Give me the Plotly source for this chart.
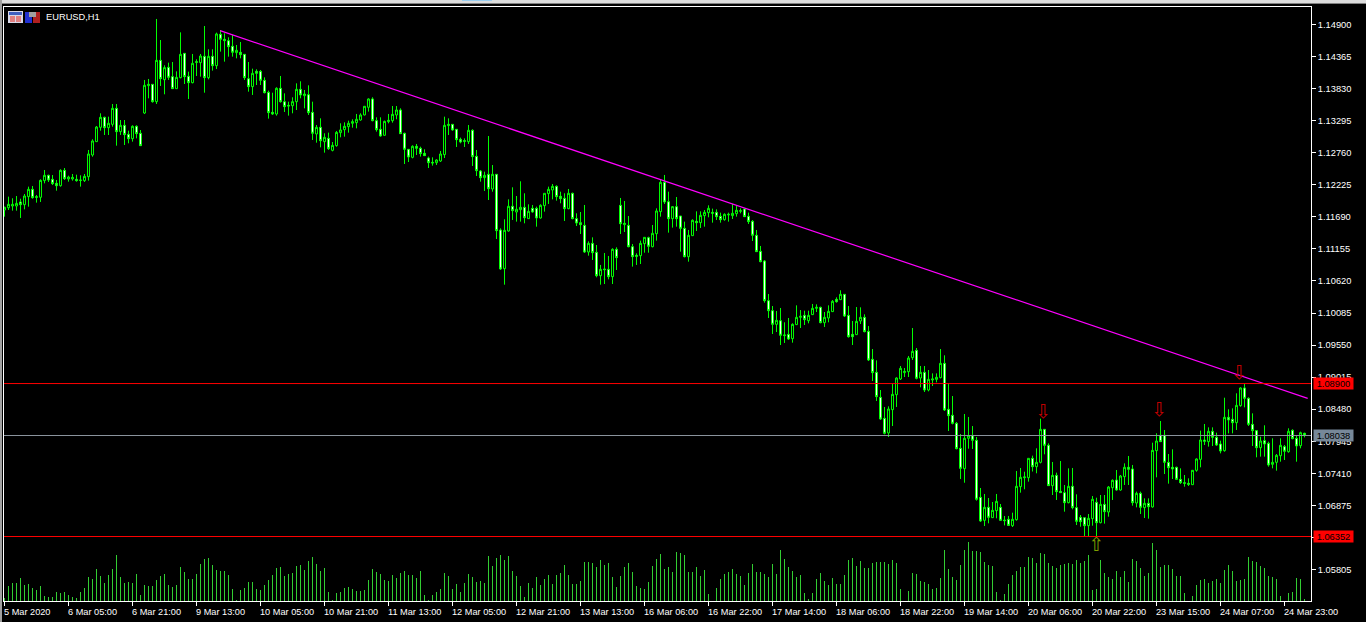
import plotly.graph_objects as go

# EURUSD H1 bars, prices in points (1 point = 0.00001)
opens = [
    111804, 111843, 111871, 111871, 111938, 111893, 112027, 112149, 112027, 112016,
    112294, 112383, 112316, 112249, 112210, 112466, 112322, 112322, 112316, 112305,
    112294, 112360, 112722, 112945, 113184, 113351, 113178, 113234, 113501, 113112,
    113217, 113067, 112995, 113201, 113084, 113423, 113879, 113902, 113612, 114302,
    113979, 114185, 114030, 113829, 114013, 114419, 114035, 113929, 114280, 114263,
    114369, 114013, 114369, 114213, 114736, 114653, 114630, 114536, 114430, 114436,
    114402, 113996, 113863, 114118, 114118, 113968, 113768, 113434, 113406, 113835,
    113612, 113551, 113545, 113612, 113818, 113712, 113729, 113434, 113073, 113184,
    112945, 113000, 112800, 112878, 113095, 113145, 113195, 113251, 113262, 113306,
    113390, 113518, 113657, 113295, 113151, 113051, 113279, 113295, 113390, 113473,
    113084, 112817, 112683, 112867, 112834, 112750, 112672, 112600, 112594, 112622,
    112728, 113212, 113234, 113151, 112984, 112962, 112945, 113134, 112700, 112455,
    112344, 112400, 112155, 112400, 111471, 110825, 111454, 111866, 111771, 111810,
    111849, 111660, 111832, 111832, 111671, 111877, 112077, 112138, 112199, 112033,
    111999, 111827, 112083, 111660, 111593, 111548, 111103, 111248, 111098, 110708,
    110820, 110814, 110692, 111148, 111882, 111560, 111548, 111192, 111048, 111042,
    111243, 111343, 111192, 111409, 111777, 112266, 111943, 111660, 111860, 111704,
    111498, 111025, 111376, 111615, 111593, 111710, 111760, 111765, 111765, 111699,
    111643, 111721, 111710, 111743, 111782, 111821, 111699, 111615, 111382, 111115,
    110953, 110291, 110124, 109896, 109957, 109707, 109729, 109657, 109891, 110013,
    110046, 109957, 110058, 110163, 110180, 109924, 110002, 110108, 110313, 110308,
    110397, 110046, 109729, 109724, 109952, 110013, 109779, 109312, 109095, 108678,
    108327, 108083, 108472, 108722, 108984, 109090, 109106, 109340, 109462, 109000,
    109095, 108800, 108967, 108978, 109006, 109245, 108478, 108378, 108244, 107827,
    107487, 107994, 108038, 107960, 107009, 106625, 106842, 106670, 106787, 106842,
    106631, 106642, 106536, 106636, 107187, 107337, 107337, 107660, 107521, 107593,
    108144, 107877, 107204, 107376, 107109, 107087, 106920, 107193, 106837, 106675,
    106670, 106536, 106653, 106926, 106586, 106892, 106764, 107170, 107298, 107131,
    107354, 107510, 107482, 106914, 107076, 106837, 106909, 106848, 107788, 108044,
    108044, 107593, 107510, 107510, 107309, 107254, 107243, 107220, 107460, 107643,
    107966, 107938, 108111, 108010, 107899, 107788, 108344, 108311, 108255, 108539,
    108834, 108661, 108227, 108122, 107838, 107955, 107910, 107560, 107593, 107704,
    107855, 107771, 108127, 107994, 107871, 108077,
]
highs = [
    111860, 112027, 112000, 112038, 111993, 112071, 112194, 112205, 112055, 112316,
    112472, 112394, 112388, 112305, 112483, 112505, 112377, 112405, 112394, 112383,
    112405, 112806, 112984, 113206, 113418, 113362, 113362, 113573, 113573, 113306,
    113306, 113128, 113217, 113217, 113139, 113974, 113991, 113907, 114992, 114641,
    114219, 114263, 114274, 114118, 114769, 114419, 114113, 114408, 114319, 114408,
    114875, 114486, 114486, 114764, 114808, 114753, 114686, 114725, 114558, 114608,
    114402, 114274, 114163, 114152, 114141, 114018, 113796, 113762, 113852, 114041,
    113751, 113612, 113685, 113918, 113952, 113807, 113885, 113612, 113223, 113334,
    113084, 113095, 112939, 113123, 113251, 113267, 113295, 113318, 113407, 113418,
    113540, 113668, 113685, 113351, 113351, 113295, 113407, 113540, 113540, 113501,
    113095, 112817, 112884, 112906, 112861, 112817, 112695, 112683, 112650, 112789,
    113362, 113334, 113240, 113151, 113012, 113000, 113223, 113151, 112806, 112472,
    112444, 113039, 112555, 112400, 111498, 111649, 111982, 112183, 112038, 112283,
    112083, 111899, 111888, 111860, 111899, 112083, 112194, 112238, 112216, 112110,
    112083, 112155, 112094, 111749, 111771, 111888, 111281, 111348, 111220, 110887,
    111087, 111037, 111165, 111181, 112005, 111955, 111704, 111237, 111081, 111293,
    111348, 111359, 111554, 111832, 112316, 112389, 112110, 111871, 112021, 111704,
    111610, 111471, 111649, 111782, 111782, 111804, 111882, 111827, 111815, 111760,
    111749, 111760, 111904, 111871, 111832, 111821, 111760, 111637, 111471, 111204,
    110970, 110402, 110202, 110119, 110169, 109930, 110002, 109913, 110213, 110135,
    110124, 110124, 110236, 110230, 110191, 110102, 110213, 110302, 110347, 110464,
    110402, 110202, 109952, 110185, 110180, 110063, 109868, 109484, 109295, 108800,
    108517, 108528, 108900, 109012, 109201, 109167, 109368, 109835, 109501, 109201,
    109201, 109134, 109078, 109078, 109484, 109379, 108900, 108700, 108266, 108066,
    108400, 108350, 108199, 108016, 107165, 107065, 106998, 106931, 107065, 106898,
    106698, 106698, 106753, 107449, 107499, 107437, 107660, 107705, 107827, 108322,
    108144, 107910, 107599, 107421, 107615, 107215, 107493, 107499, 107059, 106714,
    106675, 106731, 107031, 107003, 107048, 107048, 107198, 107309, 107465, 107382,
    107576, 107699, 107549, 107104, 107104, 106992, 106992, 107921, 108077, 108283,
    108133, 107732, 107810, 107521, 107493, 107382, 107326, 107465, 107660, 108122,
    108233, 108177, 108177, 108088, 107955, 108672, 108478, 108494, 108745, 108845,
    108900, 108678, 108411, 108133, 108021, 108211, 107938, 107994, 107732, 107994,
    107882, 108161, 108144, 108033, 108105, 108088,
]
lows = [
    111693, 111804, 111793, 111793, 111671, 111815, 111860, 111993, 111927, 111938,
    112249, 112272, 112221, 112127, 112194, 112305, 112277, 112294, 112277, 112194,
    112272, 112294, 112694, 112939, 113128, 113056, 113056, 113195, 112878, 113056,
    112889, 112917, 112945, 113000, 112878, 113406, 113668, 113596, 113573, 113874,
    113735, 113974, 113829, 113829, 114002, 113907, 113657, 113918, 114041, 114030,
    113762, 113985, 114130, 114157, 114447, 114280, 114363, 114363, 114335, 114335,
    113974, 113779, 113724, 113890, 113890, 113751, 113329, 113390, 113379, 113596,
    113440, 113379, 113418, 113473, 113668, 113501, 113390, 112973, 112928, 112850,
    112761, 112806, 112783, 112861, 113017, 113028, 113095, 113178, 113167, 113295,
    113384, 113446, 113284, 113112, 113028, 113045, 113251, 113262, 113318, 113078,
    112572, 112605, 112667, 112722, 112695, 112706, 112505, 112544, 112555, 112605,
    112672, 113056, 113128, 112856, 112917, 112856, 112906, 112539, 112372, 112277,
    112122, 111971, 112110, 111320, 110803, 110558, 111443, 111638, 111610, 111610,
    111582, 111654, 111760, 111526, 111660, 111777, 111905, 111982, 111960, 111916,
    111621, 111816, 111649, 111537, 111404, 111087, 111042, 110970, 110681, 110558,
    110569, 110647, 110569, 110803, 111404, 111437, 111181, 110859, 110887, 110903,
    111092, 111092, 111181, 111293, 111693, 111905, 111426, 111510, 111526, 111109,
    111014, 110942, 111370, 111454, 111504, 111526, 111682, 111593, 111637, 111593,
    111626, 111610, 111654, 111693, 111749, 111693, 111571, 111287, 111109, 110931,
    110258, 110002, 109735, 109768, 109551, 109585, 109635, 109590, 109885, 109835,
    109885, 109913, 110052, 110102, 109913, 109852, 109930, 110102, 110258, 110302,
    110019, 109674, 109551, 109718, 109902, 109763, 109284, 108950, 108617, 108300,
    108060, 108016, 108199, 108517, 108967, 109017, 109017, 109301, 108978, 108845,
    108767, 108778, 108867, 108928, 108995, 108450, 108116, 108227, 107810, 107315,
    107253, 107821, 107816, 106954, 106597, 106530, 106575, 106664, 106659, 106620,
    106541, 106530, 106514, 106620, 107087, 107143, 107271, 107440, 107410, 107576,
    107727, 107198, 107048, 106965, 107087, 106770, 106909, 106809, 106547, 106519,
    106358, 106358, 106536, 106358, 106575, 106570, 106686, 106965, 107120, 107120,
    107215, 107215, 106870, 106842, 106731, 106664, 106653, 106837, 107343, 107938,
    107398, 107237, 107315, 107298, 107232, 107187, 107198, 107215, 107437, 107510,
    107882, 107855, 107866, 107866, 107743, 107771, 108077, 108077, 108133, 108522,
    108511, 108200, 107866, 107677, 107688, 107688, 107521, 107493, 107454, 107604,
    107632, 107754, 107977, 107604, 107827, 108010,
]
closes = [
    111849, 111899, 111899, 111915, 111893, 112038, 112149, 112010, 112016, 112299,
    112383, 112305, 112244, 112210, 112466, 112327, 112355, 112349, 112294, 112299,
    112366, 112739, 112956, 113189, 113351, 113178, 113251, 113501, 113112, 113217,
    113062, 112995, 113201, 113078, 112878, 113885, 113902, 113612, 114302, 113996,
    114180, 114018, 113829, 114018, 114402, 114030, 113929, 114252, 114269, 114374,
    114013, 114369, 114213, 114742, 114653, 114630, 114530, 114436, 114469, 114397,
    114013, 113863, 114085, 114085, 113968, 113762, 113429, 113406, 113835, 113612,
    113529, 113540, 113612, 113818, 113724, 113740, 113429, 113084, 113184, 112961,
    113017, 112828, 112883, 113100, 113140, 113201, 113251, 113279, 113318, 113390,
    113535, 113657, 113295, 113145, 113039, 113284, 113301, 113401, 113473, 113078,
    112817, 112689, 112867, 112834, 112745, 112711, 112594, 112589, 112639, 112739,
    113217, 113234, 113140, 112978, 112939, 112950, 113134, 112695, 112461, 112344,
    112383, 112160, 112400, 111460, 110820, 111465, 111866, 111793, 111816, 111849,
    111676, 111782, 111771, 111671, 111882, 112083, 112149, 112199, 112027, 111994,
    111827, 112083, 111660, 111587, 111560, 111103, 111248, 111092, 110708, 110814,
    110809, 110692, 111148, 111009, 111576, 111582, 111192, 111026, 111031, 111248,
    111348, 111198, 111415, 111788, 112266, 111938, 111660, 111860, 111660, 111498,
    111025, 111382, 111632, 111593, 111715, 111765, 111832, 111749, 111693, 111643,
    111732, 111732, 111749, 111799, 111793, 111693, 111610, 111382, 111109, 110942,
    110291, 110124, 109896, 109963, 109713, 109718, 109651, 109896, 110013, 110030,
    109974, 110046, 110163, 110180, 109924, 110013, 110113, 110280, 110274, 110397,
    110035, 109690, 109690, 109946, 110013, 109774, 109301, 109090, 108689, 108316,
    108077, 108483, 108728, 109000, 109162, 109112, 109334, 109445, 108995, 109095,
    108800, 108978, 108984, 109012, 109245, 108467, 108372, 108244, 107821, 107493,
    107994, 108038, 107960, 106976, 106614, 106842, 106675, 106792, 106942, 106625,
    106620, 106541, 106642, 107193, 107343, 107349, 107660, 107521, 107593, 108144,
    107877, 107204, 107376, 107104, 107087, 106920, 107193, 106837, 106608, 106603,
    106536, 106659, 106976, 106586, 106892, 106770, 107181, 107293, 107131, 107365,
    107510, 107476, 106920, 107076, 106842, 106909, 106853, 107793, 107949, 107938,
    107593, 107504, 107482, 107309, 107254, 107243, 107226, 107460, 107649, 107966,
    107944, 108111, 108010, 107882, 107782, 108344, 108300, 108255, 108544, 108834,
    108661, 108227, 108122, 107838, 107949, 107899, 107549, 107593, 107710, 107877,
    107777, 108111, 107988, 107866, 108088, 108044,
]
# tick volume, in hundreds
volumes = [
    3, 15, 18, 18, 23, 16, 17, 13, 11, 15,
    5, 4, 4, 9, 8, 9, 6, 4, 3, 9,
    13, 24, 22, 32, 25, 18, 26, 32, 46, 24,
    18, 19, 18, 27, 6, 16, 15, 15, 21, 25,
    27, 16, 14, 16, 34, 29, 22, 22, 27, 37,
    42, 43, 36, 31, 30, 30, 26, 12, 1, 11,
    13, 19, 19, 12, 11, 16, 21, 26, 33, 34,
    25, 27, 28, 35, 36, 31, 40, 44, 37, 30,
    33, 9, 1, 8, 9, 13, 14, 12, 10, 10,
    11, 21, 32, 29, 27, 21, 20, 26, 23, 28,
    30, 26, 26, 23, 30, 6, 1, 6, 9, 12,
    28, 25, 12, 17, 9, 18, 27, 24, 19, 20,
    18, 45, 35, 43, 46, 41, 45, 30, 25, 15,
    4, 18, 13, 24, 16, 22, 26, 17, 26, 28,
    36, 26, 17, 17, 20, 39, 39, 38, 34, 41,
    36, 38, 24, 14, 25, 34, 38, 29, 15, 13,
    12, 19, 35, 42, 47, 32, 34, 29, 49, 48,
    46, 29, 29, 34, 25, 31, 7, 0, 13, 22,
    27, 29, 32, 27, 25, 16, 28, 37, 29, 29,
    27, 24, 37, 27, 51, 42, 34, 30, 24, 26,
    8, 2, 8, 22, 28, 20, 16, 23, 17, 17,
    26, 41, 43, 35, 40, 33, 33, 38, 39, 39,
    39, 37, 41, 38, 12, 0, 10, 28, 27, 20,
    19, 17, 12, 13, 23, 51, 32, 24, 21, 36,
    51, 59, 50, 50, 49, 39, 36, 35, 9, 1,
    7, 17, 26, 30, 34, 34, 44, 43, 38, 48,
    47, 38, 35, 33, 36, 37, 38, 37, 41, 38,
    40, 46, 11, 12, 41, 28, 24, 22, 30, 24,
    30, 19, 42, 40, 33, 25, 28, 58, 51, 34,
    36, 36, 32, 25, 25, 8, 0, 5, 16, 21,
    22, 18, 20, 22, 18, 31, 36, 30, 20, 21,
    22, 44, 40, 39, 35, 33, 25, 24, 22, 5,
    0, 8, 9, 23, 22, 2,
]

bar_ticks = [0, 16, 32, 48, 64, 80, 96, 112, 128, 144, 160, 176, 192, 208, 224, 240, 256, 272, 288, 304, 320]
bar_tick_labels = [
    "5 Mar 2020", "6 Mar 05:00", "6 Mar 21:00", "9 Mar 13:00", "10 Mar 05:00", "10 Mar 21:00",
    "11 Mar 13:00", "12 Mar 05:00", "12 Mar 21:00", "13 Mar 13:00", "16 Mar 06:00", "16 Mar 22:00",
    "17 Mar 14:00", "18 Mar 06:00", "18 Mar 22:00", "19 Mar 14:00", "20 Mar 06:00", "20 Mar 22:00",
    "23 Mar 15:00", "24 Mar 07:00", "24 Mar 23:00",
]
price_ticks = [1.14900, 1.14365, 1.13830, 1.13295, 1.12760, 1.12225, 1.11690, 1.11155, 1.10620,
               1.10085, 1.09550, 1.09015, 1.08480, 1.07945, 1.07410, 1.06875, 1.06340, 1.05805]

trend_x = [53.9, 325.8]
trend_y = [1.14797, 1.08661]
down_arrow_x = [259.6, 288.6, 308.6]
down_arrow_y = [1.08410, 1.08445, 1.09060]
up_arrow_x = [272.9]
up_arrow_y = [1.06195]

bars = list(range(len(closes)))
to_price = lambda points: [p / 100000 for p in points]

# plot frame inside the 1366x622 window, in pixels
LEFT, RIGHT, TOP, BOTTOM = 4, 1311, 7, 601


def px(x):
    return (x - LEFT) / (RIGHT - LEFT)


def py(y):
    return (BOTTOM - y) / (BOTTOM - TOP)


def box(x0, y0, x1, y1, color):
    return dict(type="rect", xref="paper", yref="paper", x0=px(x0), x1=px(x1), y0=py(y0), y1=py(y1),
                fillcolor=color, line_width=0, layer="above")


fig = go.Figure()

fig.add_trace(go.Bar(
    x=bars,
    y=volumes,
    yaxis="y2",
    width=0.25,
    marker=dict(color="#32cd32", line_width=0),
))

fig.add_trace(go.Candlestick(
    x=bars,
    open=to_price(opens),
    high=to_price(highs),
    low=to_price(lows),
    close=to_price(closes),
    whiskerwidth=0,
    increasing=dict(fillcolor="#000000", line=dict(color="#00ff00", width=1)),
    decreasing=dict(fillcolor="#ffffff", line=dict(color="#00ff00", width=1)),
))

fig.add_trace(go.Scatter(
    x=trend_x, y=trend_y, mode="lines",
    line=dict(color="#ff00ff", width=1.2),
))

fig.add_trace(go.Scatter(
    x=down_arrow_x, y=down_arrow_y, mode="text", text=["⇩"] * 3,
    textfont=dict(family="DejaVu Sans", size=19, color="#c00000"),
))
fig.add_trace(go.Scatter(
    x=up_arrow_x, y=up_arrow_y, mode="text", text=["⇧"],
    textfont=dict(family="DejaVu Sans", size=19, color="#7f9f00"),
))

fig.add_hline(y=1.08908, line=dict(color="#ff0000", width=1))
fig.add_hline(y=1.08041, line=dict(color="#8a939c", width=1))
fig.add_hline(y=1.06355, line=dict(color="#ff0000", width=1))

FONT = "Liberation Sans"
annotations = [
    dict(text="EURUSD,H1", xref="paper", yref="paper", x=px(44), y=py(17.5), xanchor="left",
         yanchor="middle", showarrow=False, font=dict(family=FONT, size=9.3, color="#ffffff")),
]
for tick, label in zip(bar_ticks, bar_tick_labels):
    annotations.append(dict(text=label, x=tick, xref="x", yref="paper", y=py(611.5), xanchor="left",
                            yanchor="middle", xshift=-2.5, showarrow=False,
                            font=dict(family=FONT, size=9.2, color="#ffffff")))
for value, label, bg in [(1.08908, "1.08900", "#ff0000"), (1.08041, "1.08038", "#778899"),
                         (1.06355, "1.06352", "#ff0000")]:
    annotations.append(dict(text=label, xref="paper", x=px(1313), y=value, yref="y", xanchor="left",
                            yanchor="middle", showarrow=False, bgcolor=bg, width=39, height=11,
                            borderpad=0, align="center",
                            font=dict(family=FONT, size=9.3, color="#000000")))

icon_shapes = [
    # window toolbar edge
    box(0, 0, 1366, 3, "#dcdcdc"),
    box(0, 3, 1366, 4, "#808080"),
    box(462, 0, 492, 1, "#99ccee"),
    box(0, 0, 2, 622, "#a0a0a0"),
    # chart icons
    box(8, 11, 23, 23, "#d8d8e8"),
    box(9, 12, 22, 15, "#4060c0"),
    box(10, 16, 15, 22, "#e08080"),
    box(16, 16, 21, 22, "#e08080"),
    box(25, 12, 32, 23, "#2030d0"),
    box(33, 12, 40, 23, "#b02020"),
    box(29, 12, 36, 17, "#a0a0a0"),
]

fig.update_layout(
    width=1366,
    height=622,
    margin=dict(l=LEFT, r=1366 - RIGHT, t=TOP, b=622 - BOTTOM, pad=0),
    paper_bgcolor="#000000",
    plot_bgcolor="#000000",
    showlegend=False,
    hovermode=False,
    bargap=0,
    xaxis=dict(
        range=[-0.125, 326.625],
        rangeslider_visible=False,
        showgrid=False,
        zeroline=False,
        showline=True,
        mirror=True,
        linecolor="#ffffff",
        linewidth=1,
        tickmode="array",
        tickvals=bar_ticks,
        ticks="outside",
        ticklen=4,
        tickcolor="#ffffff",
        showticklabels=False,
    ),
    yaxis=dict(
        range=[1.05279, 1.15192],
        side="right",
        showgrid=False,
        zeroline=False,
        showline=True,
        mirror=True,
        linecolor="#ffffff",
        linewidth=1,
        tickmode="array",
        tickvals=price_ticks,
        ticktext=[f"{v:.5f}" for v in price_ticks],
        ticks="outside",
        ticklen=4,
        tickcolor="#ffffff",
        tickfont=dict(family=FONT, size=9.3, color="#ffffff"),
    ),
    yaxis2=dict(range=[0, 594], overlaying="y", visible=False),
    annotations=annotations,
    shapes=list(fig.layout.shapes) + icon_shapes,
)

fig.write_html(
    "out.html",
    config={"displayModeBar": False},
    post_script="document.body.style.margin='0';document.body.style.background='#000';",
)
